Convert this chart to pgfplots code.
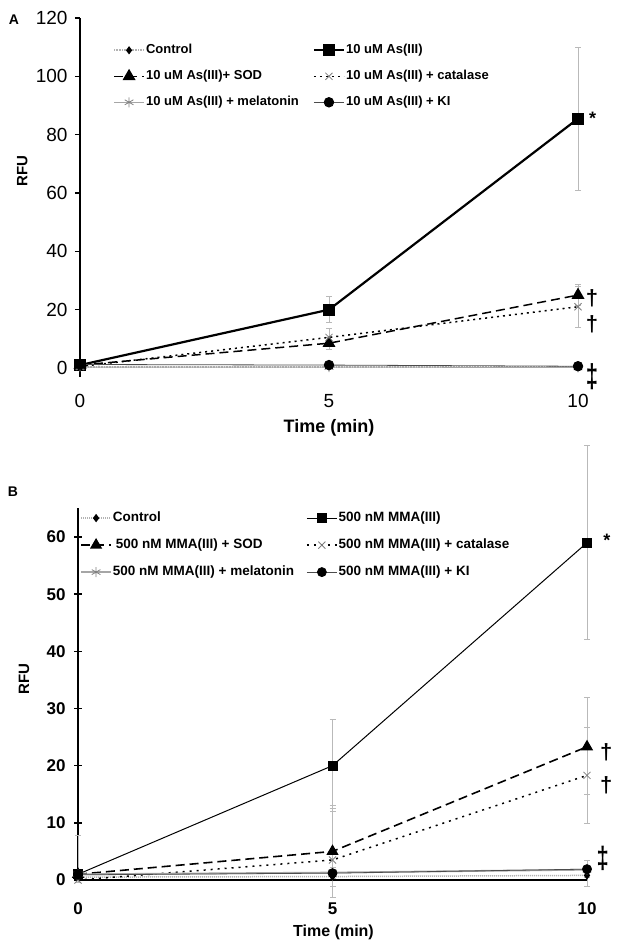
\documentclass[border=0pt]{standalone}
\usepackage{pgfplots}
\pgfplotsset{compat=1.18}
\usepackage{fontspec}
\setmainfont{Liberation Sans}

\pgfplotsset{
  errbars/.style={error bars/.cd, y dir=both, y explicit,
    error bar style={gray!55, line width=1pt, solid},
    error mark options={gray!55, rotate=90, mark size=3pt, line width=1pt, solid}},
  legimg/.style={legend image code/.code={%
    \draw[mark repeat=2,mark phase=2,##1] plot coordinates {(0pt,0pt) (15pt,0pt) (30pt,0pt)};}},
}

% Panel A data: x y err+ err-
\pgfplotstableread{
x y ep em
0 0.5 0.3 0.3
5 0.5 0.5 0.5
10 0.5 0.5 0.5
}\AControl
\pgfplotstableread{
x y ep em
0 1 0.5 0.5
5 20 4.5 4.5
10 85.5 24.5 24.5
}\AAs
\pgfplotstableread{
x y ep em
0 1 0.5 0.5
5 8.5 2 2
10 25 3.5 3.5
}\ASOD
\pgfplotstableread{
x y ep em
0 0.5 1.5 1.5
5 10.5 3 3
10 21 7 7
}\ACat
\pgfplotstableread{
x y ep em
0 0.3 0.3 0.3
5 0.3 0.5 0.5
10 0.2 0.5 0.5
}\AMel
\pgfplotstableread{
x y ep em
0 1.2 0.5 0.5
5 1 1 1
10 0.6 0.8 0.8
}\AKI

% Panel B data
\pgfplotstableread{
x y ep em
0 0.5 0.3 0.3
5 0.6 0.3 0.3
10 0.8 0.3 0.3
}\BControl
\pgfplotstableread{
x y ep em
0 1 6.8 0
5 20 8 8
10 59 17 17
}\BAs
\pgfplotstableread{
x y ep em
0 1 0.5 0.5
5 5 8 8
10 23.3 8.7 8.4
}\BSOD
\pgfplotstableread{
x y ep em
0 0 0.5 0.5
5 3.5 9 4.7
10 18.3 8.4 8.5
}\BCat
\pgfplotstableread{
x y ep em
0 1 0.3 0.3
5 1.3 0.3 0.3
10 1.8 0.3 0.3
}\BMel
\pgfplotstableread{
x y ep em
0 0.9 0.5 0.5
5 1.2 1 2.4
10 1.9 1.5 3.1
}\BKI

\begin{document}
\begin{tikzpicture}
\path[use as bounding box] (0,0) rectangle (624pt,950pt);

\node[font=\bfseries\fontsize{14}{14}\selectfont] at (14pt,930pt) {A};
\node[font=\bfseries\fontsize{14}{14}\selectfont] at (13pt,458pt) {B};

% ---------------- Panel A ----------------
\begin{axis}[
  at={(80pt,573.25pt)}, anchor=south west,
  scale only axis, width=498pt, height=358.75pt,
  xmin=0, xmax=10, ymin=-3, ymax=120,
  clip=false,
  axis y line*=left, axis x line*=bottom,
  x axis line style={draw=none},
  y axis line style={black, line width=1.2pt},
  xtick={0,5,10}, ytick={0,20,...,120},
  xtick style={draw=none},
  ytick style={black, line width=1.1pt},
  tick align=outside, major tick length=5pt,
  /pgf/number format/assume math mode=true,
  ticklabel style={font=\fontsize{19}{19}\selectfont},
  xticklabel style={yshift=-9pt},
  yticklabel style={xshift=-4pt},
  xlabel={Time (min)}, ylabel={RFU},
  xlabel style={font=\bfseries\fontsize{18}{18}\selectfont, at={(axis description cs:0.5,-0.143)}, anchor=center},
  ylabel style={font=\bfseries\fontsize{15}{15}\selectfont, at={(axis description cs:-0.116,0.574)}, anchor=center},
  legimg,
  legend columns=2,
  legend cell align=left,
  legend style={draw=none, fill=none, at={(0.06,0.937)}, anchor=north west,
    font=\bfseries\fontsize{13}{13}\selectfont,
    nodes={inner sep=1pt, text height=10pt, text depth=3pt},
    row sep=11pt,
    /tikz/every even column/.append style={column sep=13pt}},
]
\addplot[gray!60, line width=2pt, dash pattern=on 1pt off 0.6pt, mark=diamond*, mark size=2.5pt, mark options={black, solid}, errbars]
  table[x=x, y=y, y error plus=ep, y error minus=em] {\AControl};
\addlegendentry{Control}
\addplot[black, line width=2.2pt, mark=square*, mark size=5pt, mark options={solid}, errbars]
  table[x=x, y=y, y error plus=ep, y error minus=em] {\AAs};
\addlegendentry{10 uM As(III)}
\addplot[black, line width=1.5pt, dash pattern=on 9pt off 5pt, mark=triangle*, mark size=6pt, mark options={solid}, errbars]
  table[x=x, y=y, y error plus=ep, y error minus=em] {\ASOD};
\addlegendentry{10 uM As(III)+ SOD}
\addplot[black, line width=1.5pt, dash pattern=on 2pt off 4pt, mark=x, mark size=5pt, mark options={gray, solid, line width=0.8pt}, errbars]
  table[x=x, y=y, y error plus=ep, y error minus=em] {\ACat};
\addlegendentry{10 uM As(III) + catalase}
\addplot[gray!70, line width=1pt, mark=asterisk, mark size=5pt, mark options={gray, solid, line width=0.8pt}, errbars]
  table[x=x, y=y, y error plus=ep, y error minus=em] {\AMel};
\addlegendentry{10 uM As(III) + melatonin}
\addplot[black!70, line width=0.8pt, mark=*, mark size=4.8pt, mark options={black, solid}, errbars]
  table[x=x, y=y, y error plus=ep, y error minus=em] {\AKI};
\addlegendentry{10 uM As(III) + KI}

\node[font=\bfseries\fontsize{18}{18}\selectfont, anchor=west] at (axis cs:10.15,85.5) {*};
\node[font=\bfseries\fontsize{22}{22}\selectfont] at (axis cs:10.28,24) {†};
\node[font=\bfseries\fontsize{22}{22}\selectfont] at (axis cs:10.28,15) {†};
\node[font=\bfseries\fontsize{22}{22}\selectfont, yscale=1.5] at (axis cs:10.28,-3) {‡};
\end{axis}

% ---------------- Panel B ----------------
\begin{axis}[
  at={(78pt,70pt)}, anchor=south west,
  scale only axis, width=509pt, height=371.6pt,
  xmin=0, xmax=10, ymin=0, ymax=65,
  clip=false,
  axis y line*=left, axis x line*=bottom,
  x axis line style={black, line width=2.4pt},
  y axis line style={black, line width=2pt},
  xtick={0,5,10}, ytick={0,10,...,60},
  xtick style={draw=none},
  ytick style={black, line width=1.5pt},
  tick align=center, major tick length=8pt,
  /pgf/number format/assume math mode=true,
  ticklabel style={font=\bfseries\fontsize{17}{17}\selectfont},
  xticklabel style={yshift=-15pt},
  yticklabel style={xshift=-5pt},
  xlabel={Time (min)}, ylabel={RFU},
  xlabel style={font=\bfseries\fontsize{16}{16}\selectfont, at={(axis description cs:0.502,-0.14)}, anchor=center},
  ylabel style={font=\bfseries\fontsize{15}{15}\selectfont, at={(axis description cs:-0.106,0.541)}, anchor=center},
  legimg,
  legend columns=2,
  legend cell align=left,
  legend style={draw=none, fill=none, at={(-0.002,1.0)}, anchor=north west,
    font=\bfseries\fontsize{13.5}{13.5}\selectfont,
    nodes={inner sep=1pt, text height=10pt, text depth=3pt},
    row sep=12pt,
    /tikz/every even column/.append style={column sep=11pt}},
]
\addplot[gray!60, line width=1.5pt, dash pattern=on 1.2pt off 0.8pt, mark=diamond*, mark size=3pt, mark options={black, solid}, errbars]
  table[x=x, y=y, y error plus=ep, y error minus=em] {\BControl};
\addlegendentry{Control}
\addplot[black, line width=1pt, mark=square*, mark size=4.5pt, mark options={solid}, errbars]
  table[x=x, y=y, y error plus=ep, y error minus=em] {\BAs};
\addlegendentry{500 nM MMA(III)}
\addplot[black, line width=1.6pt, dash pattern=on 9pt off 5pt, mark=triangle*, mark size=5.5pt, mark options={solid}, errbars]
  table[x=x, y=y, y error plus=ep, y error minus=em] {\BSOD};
\addlegendentry{\kern3pt 500 nM MMA(III) + SOD}
\addplot[black, line width=1.5pt, dash pattern=on 2pt off 5pt, mark=x, mark size=5pt, mark options={gray, solid, line width=0.8pt}, errbars]
  table[x=x, y=y, y error plus=ep, y error minus=em] {\BCat};
\addlegendentry{500 nM MMA(III) + catalase}
\addplot[gray!70, line width=1.8pt, mark=asterisk, mark size=5pt, mark options={gray, solid, line width=0.8pt}, errbars]
  table[x=x, y=y, y error plus=ep, y error minus=em] {\BMel};
\addlegendentry{500 nM MMA(III) + melatonin}
\addplot[black!70, line width=0.8pt, mark=*, mark size=4.5pt, mark options={black, solid}, errbars]
  table[x=x, y=y, y error plus=ep, y error minus=em] {\BKI};
\addlegendentry{500 nM MMA(III) + KI}

\node[font=\bfseries\fontsize{18}{18}\selectfont, anchor=west] at (axis cs:10.25,59.5) {*};
\node[font=\bfseries\fontsize{22}{22}\selectfont] at (axis cs:10.38,22.4) {†};
\node[font=\bfseries\fontsize{22}{22}\selectfont] at (axis cs:10.38,16.6) {†};
\node[font=\bfseries\fontsize{22}{22}\selectfont, yscale=1.4] at (axis cs:10.31,3.8) {‡};
\end{axis}
\end{tikzpicture}
\end{document}
